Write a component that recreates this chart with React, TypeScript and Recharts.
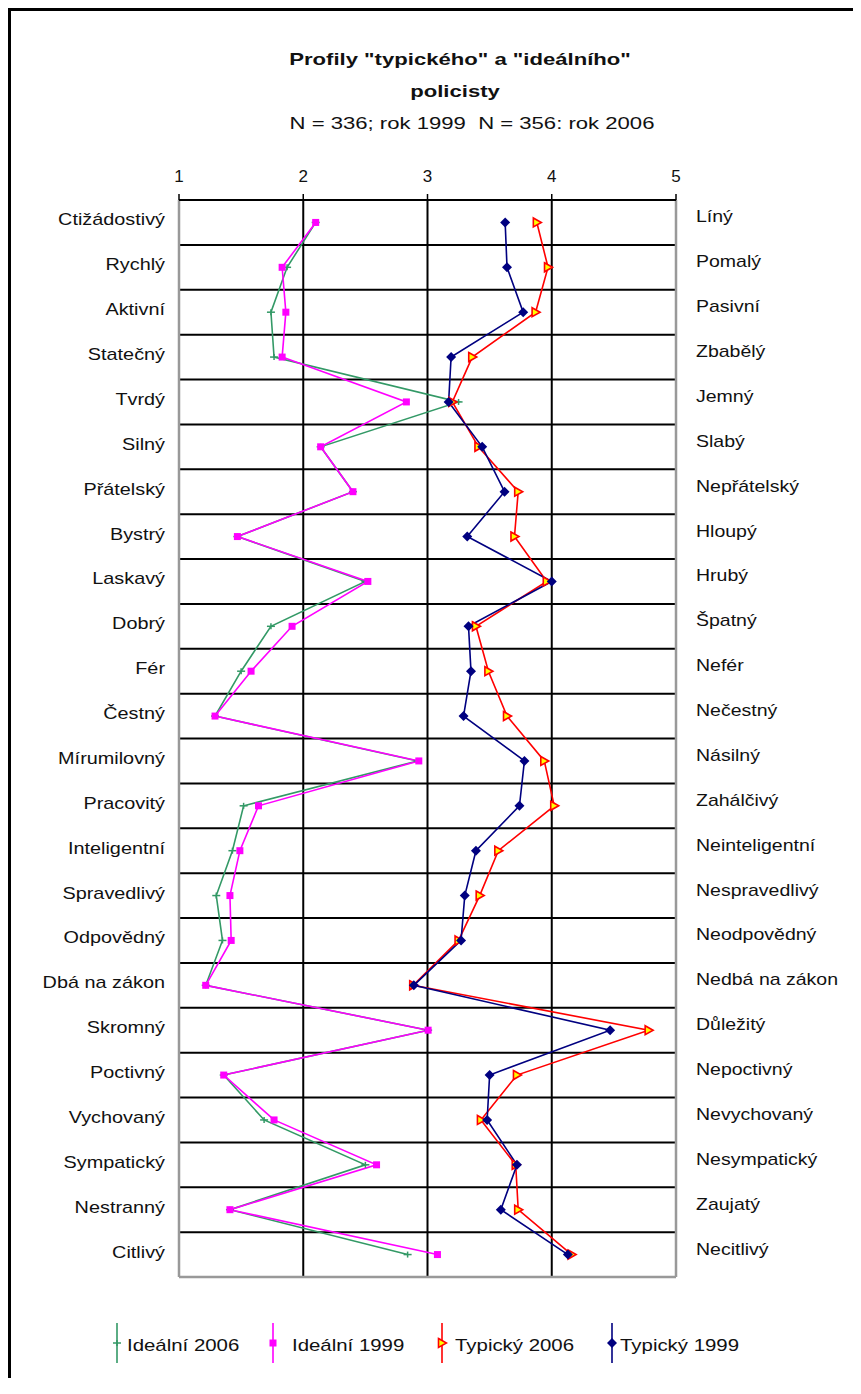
import React from 'react';
import { LineChart, Line, XAxis, YAxis, CartesianGrid } from 'recharts';

// ---------------- data ----------------
const leftLabels = [
  'Ctižádostivý', 'Rychlý', 'Aktivní', 'Statečný', 'Tvrdý', 'Silný', 'Přátelský', 'Bystrý',
  'Laskavý', 'Dobrý', 'Fér', 'Čestný', 'Mírumilovný', 'Pracovitý', 'Inteligentní', 'Spravedlivý',
  'Odpovědný', 'Dbá na zákon', 'Skromný', 'Poctivný', 'Vychovaný', 'Sympatický', 'Nestranný', 'Citlivý',
];
const rightLabels = [
  'Líný', 'Pomalý', 'Pasivní', 'Zbabělý', 'Jemný', 'Slabý', 'Nepřátelský', 'Hloupý',
  'Hrubý', 'Špatný', 'Nefér', 'Nečestný', 'Násilný', 'Zahálčivý', 'Neinteligentní', 'Nespravedlivý',
  'Neodpovědný', 'Nedbá na zákon', 'Důležitý', 'Nepoctivný', 'Nevychovaný', 'Nesympatický', 'Zaujatý', 'Necitlivý',
];
const ideal2006 = [2.10, 1.87, 1.74, 1.765, 3.25, 2.14, 2.40, 1.47, 2.50, 1.74, 1.50, 1.29, 2.92, 1.52, 1.43, 1.30, 1.35, 1.215, 3.005, 1.36, 1.685, 2.50, 1.41, 2.84];
const ideal1999 = [2.10, 1.83, 1.86, 1.83, 2.83, 2.14, 2.40, 1.47, 2.52, 1.91, 1.58, 1.29, 2.93, 1.64, 1.49, 1.41, 1.42, 1.215, 3.005, 1.36, 1.765, 2.59, 1.41, 3.08];
const typical2006 = [3.88, 3.97, 3.87, 3.36, 3.20, 3.41, 3.73, 3.70, 3.96, 3.39, 3.49, 3.64, 3.94, 4.02, 3.57, 3.42, 3.25, 2.885, 4.78, 3.72, 3.43, 3.71, 3.73, 4.16];
const typical1999 = [3.625, 3.64, 3.77, 3.19, 3.17, 3.44, 3.62, 3.32, 4.00, 3.33, 3.35, 3.29, 3.78, 3.74, 3.39, 3.30, 3.27, 2.89, 4.47, 3.50, 3.48, 3.72, 3.59, 4.13];
const xTicks = [1, 2, 3, 4, 5];
const seriesNames = ['Ideální 2006', 'Ideální 1999', 'Typický 2006', 'Typický 1999'];
const titleLine1 = 'Profily "typického" a "ideálního"';
const titleLine2 = 'policisty';
const subtitle = 'N = 336; rok 1999\u00a0\u00a0N = 356: rok 2006';

const data = leftLabels.map((l, i) => ({
  left: l,
  right: rightLabels[i],
  ideal2006: ideal2006[i],
  ideal1999: ideal1999[i],
  typical2006: typical2006[i],
  typical1999: typical1999[i],
}));

// ---------------- styles ----------------
const FONT = '"Liberation Sans", Arial, sans-serif';
const GREEN = '#339966';
const MAGENTA = '#FF00FF';
const RED = '#FF0000';
const NAVY = '#000080';

// ---------------- markers ----------------
const GreenMark = ({ cx, cy }: { cx: number; cy: number }) => (
  <g>
    <line x1={cx - 4} x2={cx + 4} y1={cy} y2={cy} stroke={GREEN} strokeWidth={1.5} />
    <line x1={cx} x2={cx} y1={cy - 3} y2={cy + 3} stroke={GREEN} strokeWidth={1.5} />
  </g>
);
const MagentaMark = ({ cx, cy }: { cx: number; cy: number }) => (
  <rect x={cx - 3.5} y={cy - 3.5} width={7} height={7} fill={MAGENTA} />
);
const RedMark = ({ cx, cy }: { cx: number; cy: number }) => (
  <polygon
    points={`${cx - 3.5},${cy - 4.5} ${cx + 4.5},${cy} ${cx - 3.5},${cy + 4.5}`}
    fill="#FFFF00"
    stroke={RED}
    strokeWidth={1.6}
  />
);
const NavyMark = ({ cx, cy }: { cx: number; cy: number }) => (
  <polygon points={`${cx},${cy - 5} ${cx + 5},${cy} ${cx},${cy + 5} ${cx - 5},${cy}`} fill={NAVY} />
);

const makeDot = (Mark: any, prefix: string) => (p: any) => {
  const { cx, cy, index } = p;
  if (cx == null || cy == null) return <g key={`${prefix}-${index}`} />;
  return (
    <g key={`${prefix}-${index}`}>
      <Mark cx={cx} cy={cy} />
    </g>
  );
};

// ---------------- ticks ----------------
const YTick = (props: any) => {
  const { y, payload, index } = props;
  const right = rightLabels[index] ?? data.find((d) => d.left === payload.value)?.right;
  return (
    <g>
      <text
        transform={`translate(165,${y + 3}) scale(1.24,1)`}
        textAnchor="end"
        fontSize={16}
        fontFamily={FONT}
        fill="#111"
      >
        {payload.value}
      </text>
      <text
        transform={`translate(696,${y}) scale(1.22,1)`}
        textAnchor="start"
        fontSize={16}
        fontFamily={FONT}
        fill="#111"
      >
        {right}
      </text>
    </g>
  );
};

const XTick = (props: any) => {
  const { x, y, payload } = props;
  return (
    <text x={x} y={y} dy={-10} textAnchor="middle" fontSize={17} fontFamily={FONT} fill="#111">
      {payload.value}
    </text>
  );
};

// ---------------- grid generators ----------------
const plotBox = (args: any) => {
  const o = args?.offset ?? {};
  const top = o.top ?? 0;
  const left = o.left ?? 0;
  const height = o.height ?? (args.height - (o.top ?? 0) - (o.bottom ?? 0));
  const width = o.width ?? (args.width - (o.left ?? 0) - (o.right ?? 0));
  return { top, left, height, width };
};
const innerRowLines = (args: any) => {
  const { top, height } = plotBox(args);
  const n = leftLabels.length;
  return Array.from({ length: n - 1 }, (_, i) => top + ((i + 1) * height) / n);
};
const bottomLine = (args: any) => {
  const { top, height } = plotBox(args);
  return [top + height];
};
const sideLines = (args: any) => {
  const { left, width } = plotBox(args);
  return [left, left + width];
};

// ---------------- component ----------------
const CHART_W = 861;
const CHART_H = 1300;

export default function App() {
  const legendItems = [
    { name: seriesNames[0], Mark: GreenMark, color: GREEN, iconX: 117, textX: 127 },
    { name: seriesNames[1], Mark: MagentaMark, color: MAGENTA, iconX: 273, textX: 292 },
    { name: seriesNames[2], Mark: RedMark, color: RED, iconX: 442, textX: 455 },
    { name: seriesNames[3], Mark: NavyMark, color: NAVY, iconX: 612, textX: 620 },
  ];
  return (
    <div style={{ position: 'relative', width: 845, height: 1370, fontFamily: FONT, background: '#fff' }}>
      {/* frame: top and left edges */}
      <div
        style={{
          position: 'absolute',
          left: 0,
          top: 0,
          width: 853,
          height: 1380,
          boxSizing: 'border-box',
          borderTop: '3px solid #000',
          borderLeft: '3px solid #000',
        }}
      />
      {/* titles */}
      <div
        style={{
          position: 'absolute', left: 452, top: 42, lineHeight: '20px', fontSize: 17, fontWeight: 'bold',
          whiteSpace: 'nowrap', transform: 'translateX(-50%) scaleX(1.3)', color: '#111',
        }}
      >
        {titleLine1}
      </div>
      <div
        style={{
          position: 'absolute', left: 447, top: 74, lineHeight: '20px', fontSize: 17, fontWeight: 'bold',
          whiteSpace: 'nowrap', transform: 'translateX(-50%) scaleX(1.3)', color: '#111',
        }}
      >
        {titleLine2}
      </div>
      <div
        style={{
          position: 'absolute', left: 464, top: 106, lineHeight: '20px', fontSize: 17,
          whiteSpace: 'nowrap', transform: 'translateX(-50%) scaleX(1.3)', color: '#111',
        }}
      >
        {subtitle}
      </div>

      <div style={{ position: 'absolute', left: -8, top: -8 }}>
        <LineChart
          width={CHART_W}
          height={CHART_H}
          data={data}
          layout="vertical"
          margin={{ top: 160, right: 185, left: 9, bottom: 23 }}
        >
          <CartesianGrid
            stroke="#000"
            strokeWidth={2}
            verticalValues={[2, 3, 4]}
            horizontalCoordinatesGenerator={innerRowLines}
          />
          <CartesianGrid
            stroke="#999"
            strokeWidth={2.5}
            horizontalCoordinatesGenerator={bottomLine}
            verticalCoordinatesGenerator={sideLines}
          />
          <XAxis
            type="number"
            orientation="top"
            domain={[1, 5]}
            ticks={xTicks}
            height={40}
            tickSize={6}
            axisLine={{ stroke: '#000', strokeWidth: 2 }}
            tickLine={{ stroke: '#000', strokeWidth: 1.5 }}
            tick={XTick}
            interval={0}
          />
          <YAxis
            type="category"
            dataKey="left"
            scale="band"
            width={170}
            axisLine={false}
            tickLine={false}
            tick={YTick}
            interval={0}
          />
          <Line
            dataKey="ideal2006"
            name={seriesNames[0]}
            stroke={GREEN}
            strokeWidth={1.6}
            dot={makeDot(GreenMark, 'g')}
            activeDot={false}
            isAnimationActive={false}
          />
          <Line
            dataKey="ideal1999"
            name={seriesNames[1]}
            stroke={MAGENTA}
            strokeWidth={1.6}
            dot={makeDot(MagentaMark, 'm')}
            activeDot={false}
            isAnimationActive={false}
          />
          <Line
            dataKey="typical2006"
            name={seriesNames[2]}
            stroke={RED}
            strokeWidth={1.6}
            dot={makeDot(RedMark, 'r')}
            activeDot={false}
            isAnimationActive={false}
          />
          <Line
            dataKey="typical1999"
            name={seriesNames[3]}
            stroke={NAVY}
            strokeWidth={1.6}
            dot={makeDot(NavyMark, 'n')}
            activeDot={false}
            isAnimationActive={false}
          />
        </LineChart>
      </div>

      {/* legend */}
      {legendItems.map((it) => (
        <React.Fragment key={it.name}>
          <svg
            style={{ position: 'absolute', left: it.iconX - 8 - 6, top: 1322 - 8 }}
            width={12}
            height={42}
          >
            <line x1={6} x2={6} y1={1} y2={41} stroke={it.color} strokeWidth={1.6} />
            <it.Mark cx={6} cy={21} />
          </svg>
          <div
            style={{
              position: 'absolute', left: it.textX - 8, top: 1328, lineHeight: '20px', fontSize: 17,
              whiteSpace: 'nowrap', transform: 'scaleX(1.2)', transformOrigin: 'left center', color: '#111',
            }}
          >
            {it.name}
          </div>
        </React.Fragment>
      ))}
    </div>
  );
}
